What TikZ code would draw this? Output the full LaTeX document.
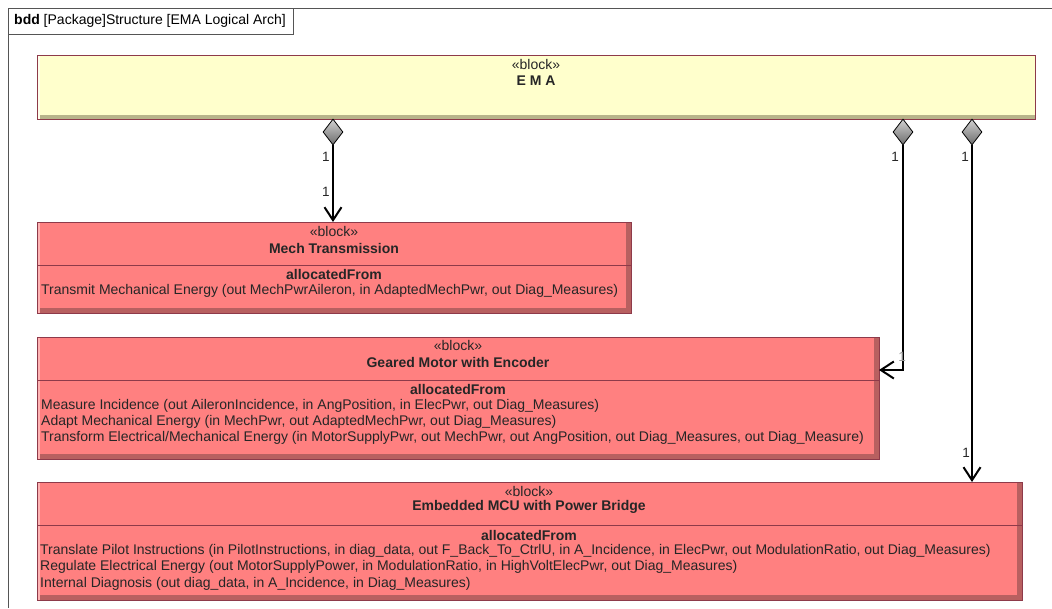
\documentclass[tikz,border=0pt]{standalone}
\usepackage{fontspec}
\setmainfont{Liberation Sans}
\usetikzlibrary{shapes.geometric,shapes.misc,arrows.meta}
\definecolor{emafill}{HTML}{FFFFCC}
\definecolor{emashade}{HTML}{B8B48A}
\definecolor{redfill}{HTML}{FF8080}
\definecolor{redshade}{HTML}{B86060}
\definecolor{blkborder}{HTML}{8E3A4A}
\definecolor{framegray}{HTML}{555555}
\tikzset{
  blockbase/.style={rectangle, draw=blkborder, line width=0.8pt, inner sep=0pt, outer sep=0pt, anchor=north west},
  emablock/.style={blockbase, fill=emafill,
    path picture={\fill[emashade] (path picture bounding box.south west) rectangle ([yshift=4pt]path picture bounding box.south east);
                  \fill[white!60!emafill] (path picture bounding box.north west) rectangle ([xshift=3pt]path picture bounding box.south west);}},
  redblock/.style={blockbase, fill=redfill,
    path picture={\fill[redshade] (path picture bounding box.south west) rectangle ([yshift=5pt]path picture bounding box.south east);
                  \fill[redshade] ([xshift=-5pt]path picture bounding box.south east) rectangle (path picture bounding box.north east);
                  \fill[white!40!redfill] (path picture bounding box.north west) rectangle ([xshift=3pt]path picture bounding box.south west);}},
  txt/.style={inner sep=0pt, font=\fontsize{14}{16}\selectfont, text=black!85},
  ttl/.style={txt, font=\fontsize{14}{16}\selectfont\bfseries},
  ltxt/.style={txt, anchor=west},
  mult/.style={inner sep=0pt, font=\fontsize{13.5}{15}\selectfont, text=black!85},
  comp/.style={diamond, draw=black, line width=0.8pt, minimum width=20pt, minimum height=26pt, inner sep=0pt,
    top color=gray!35, bottom color=gray!85!black},
  conn/.style={line width=2pt, -{Straight Barb[length=13pt,width=17pt,line width=2pt]}},
  divider/.style={draw=blkborder, line width=0.6pt}
}
\begin{document}
\begin{tikzpicture}[x=1pt,y=-1pt]
\useasboundingbox (0,0) rectangle (1052,608);
% frame
\draw[framegray, line width=0.8pt] (8,608) -- (8,8) -- (1052,8);
\node[draw=framegray, line width=0.8pt, inner sep=0pt, anchor=north west, minimum width=285pt, minimum height=26pt,
  chamfered rectangle, chamfered rectangle corners=south east, chamfered rectangle xsep=5pt, chamfered rectangle ysep=5pt, fill=white] (tab) at (8,8) {};
\node[anchor=west, inner sep=0pt, font=\fontsize{14}{16}\selectfont] (tabtxt) at (14,21) {\textbf{bdd} [Package]Structure [EMA Logical Arch]};

% EMA block
\node[emablock, minimum width=998pt, minimum height=64pt] (ema) at (37,55) {};
\node[txt] (emast) at (536,64) {«block»};
\node[ttl] (emat) at (536,81) {E M A};

% Mech Transmission
\node[redblock, minimum width=594pt, minimum height=91pt] (mech) at (37,222) {};
\draw[divider] (37,265) -- (631,265);
\node[txt] (mechst) at (334,231) {«block»};
\node[ttl] (mecht) at (334,248) {Mech Transmission};
\node[ttl] (mecha) at (334,274) {allocatedFrom};
\node[ltxt] (mech1) at (41,291) {Transmit Mechanical Energy (out MechPwrAileron, in AdaptedMechPwr, out Diag\_Measures)};

% Geared Motor
\node[redblock, minimum width=842pt, minimum height=122pt] (gear) at (37,337) {};
\draw[divider] (37,380) -- (879,380);
\node[txt] (gearst) at (458,345) {«block»};
\node[ttl] (geart) at (458,362) {Geared Motor with Encoder};
\node[ttl] (geara) at (458,389) {allocatedFrom};
\node[ltxt] (gear1) at (41,406) {Measure Incidence (out AileronIncidence, in AngPosition, in ElecPwr, out Diag\_Measures)};
\node[ltxt] (gear2) at (41,422) {Adapt Mechanical Energy (in MechPwr, out AdaptedMechPwr, out Diag\_Measures)};
\node[ltxt] (gear3) at (41,438) {Transform Electrical/Mechanical Energy (in MotorSupplyPwr, out MechPwr, out AngPosition, out Diag\_Measures, out Diag\_Measure)};

% MCU
\node[redblock, minimum width=985pt, minimum height=118pt] (mcu) at (37,482) {};
\draw[divider] (37,525) -- (1022,525);
\node[txt] (mcust) at (529,491) {«block»};
\node[ttl] (mcut) at (529,507) {Embedded MCU with Power Bridge};
\node[ttl] (mcua) at (529,535) {allocatedFrom};
\node[ltxt] (mcu1) at (40,551) {Translate Pilot Instructions (in PilotInstructions, in diag\_data, out F\_Back\_To\_CtrlU, in A\_Incidence, in ElecPwr, out ModulationRatio, out Diag\_Measures)};
\node[ltxt] (mcu2) at (40,567) {Regulate Electrical Energy (out MotorSupplyPower, in ModulationRatio, in HighVoltElecPwr, out Diag\_Measures)};
\node[ltxt] (mcu3) at (40,584) {Internal Diagnosis (out diag\_data, in A\_Incidence, in Diag\_Measures)};

% composition diamonds
\node[comp] (dA) at (333,132) {};
\node[comp] (dB) at (903,132) {};
\node[comp] (dC) at (972,132) {};

% connectors
\draw[conn] (dA.south) -- (dA.south |- mech.north);
\draw[conn] (dB.south) |- ([yshift=28pt]gear.east);
\draw[conn] (dC.south) -- (dC.south |- mcu.north);

% multiplicities
\node[mult] (mA1) at (326,157) {1};
\node[mult] (mA2) at (326,192) {1};
\node[mult] (mB1) at (895,157) {1};
\node[mult, text=black!40] (mB2) at (902,357) {1};
\node[mult] (mC1) at (965,157) {1};
\node[mult] (mC2) at (966,453) {1};
\end{tikzpicture}
\end{document}
